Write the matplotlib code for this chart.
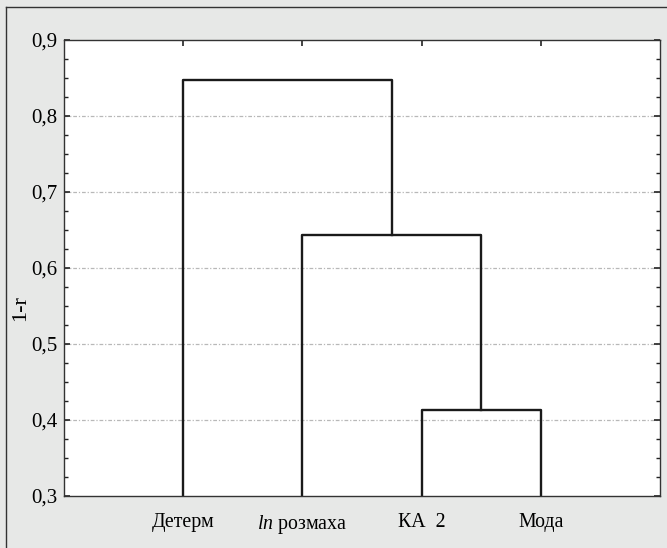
import matplotlib.pyplot as plt
import matplotlib.lines as mlines
import numpy as np

plt.rcParams['font.family'] = ['Liberation Serif', 'DejaVu Serif']
plt.rcParams['mathtext.fontset'] = 'custom'
plt.rcParams['mathtext.it'] = 'Liberation Serif:italic'
plt.rcParams['mathtext.rm'] = 'Liberation Serif'

# leaves (left to right) and merge heights (1-r)
labels = ['Детерм', '$\\mathit{ln}$ розмаха', 'КА  2', 'Мода']
h_mode_ka = 0.413      # КА 2 + Мода
h_ln = 0.644           # ln розмаха + (КА 2, Мода)
h_top = 0.848          # Детерм + rest
y_min, y_max = 0.3, 0.9

W, H = 667, 548
fig = plt.figure(figsize=[W / 100, H / 100], dpi=100)
fig.patch.set_facecolor('#e7e8e7')
# outer frame (only left and top edges visible)
fx, fy = 5.5 / W, 1 - 7 / H
fig.lines.append(mlines.Line2D([fx, fx], [0, fy], transform=fig.transFigure,
                               color='#333333', lw=1.0))
fig.lines.append(mlines.Line2D([fx, 1], [fy, fy], transform=fig.transFigure,
                               color='#333333', lw=1.0))

ax = fig.add_axes([64 / W, 1 - 496 / H, (660 - 64) / W, (496 - 40) / H])
ax.set_facecolor('white')

x = np.arange(1, len(labels) + 1)
lw = 1.7
c = '#1a1a1a'
# КА 2 / Мода
ax.plot([x[2], x[2], x[3], x[3]], [y_min, h_mode_ka, h_mode_ka, y_min], color=c, lw=lw)
m1 = (x[2] + x[3]) / 2
# ln розмаха / cluster
ax.plot([x[1], x[1], m1, m1], [y_min, h_ln, h_ln, h_mode_ka], color=c, lw=lw)
m2 = (x[1] + m1) / 2
# Детерм / cluster
ax.plot([x[0], x[0], m2, m2], [y_min, h_top, h_top, h_ln], color=c, lw=lw)

ax.set_xlim(0, len(labels) + 1)
ax.set_ylim(y_min, y_max)
ax.set_xticks(x)
ax.set_xticklabels(labels, fontsize=14.3)
ax.set_yticks(np.arange(3, 10) / 10)
ax.set_yticklabels([f'{v/10:.1f}'.replace('.', ',') for v in range(3, 10)], fontsize=15)
ax.set_yticks(np.arange(0.3, 0.9001, 0.025), minor=True)
ax.tick_params(axis='both', which='both', direction='in', color='#222222')
ax.tick_params(axis='y', which='both', left=True, right=True)
ax.tick_params(axis='x', top=True, bottom=True, pad=12, length=4, width=1.2)
ax.tick_params(axis='y', which='major', length=4, width=1.2, pad=5)
ax.tick_params(axis='y', which='minor', length=3, width=1.0)

for v in np.arange(4, 9) / 10:
    ax.axhline(v, color='#b8b8b8', lw=0.9, linestyle=(0, (3, 1.5, 1, 1.5)), zorder=0)

for s in ax.spines.values():
    s.set_color('#333333')
    s.set_linewidth(1.0)

ax.set_ylabel('1-r', fontsize=16)
ax.yaxis.set_label_coords((30 - 64) / 596, (496 - 308) / 456)

plt.savefig('out.png', dpi=100, facecolor=fig.get_facecolor())
